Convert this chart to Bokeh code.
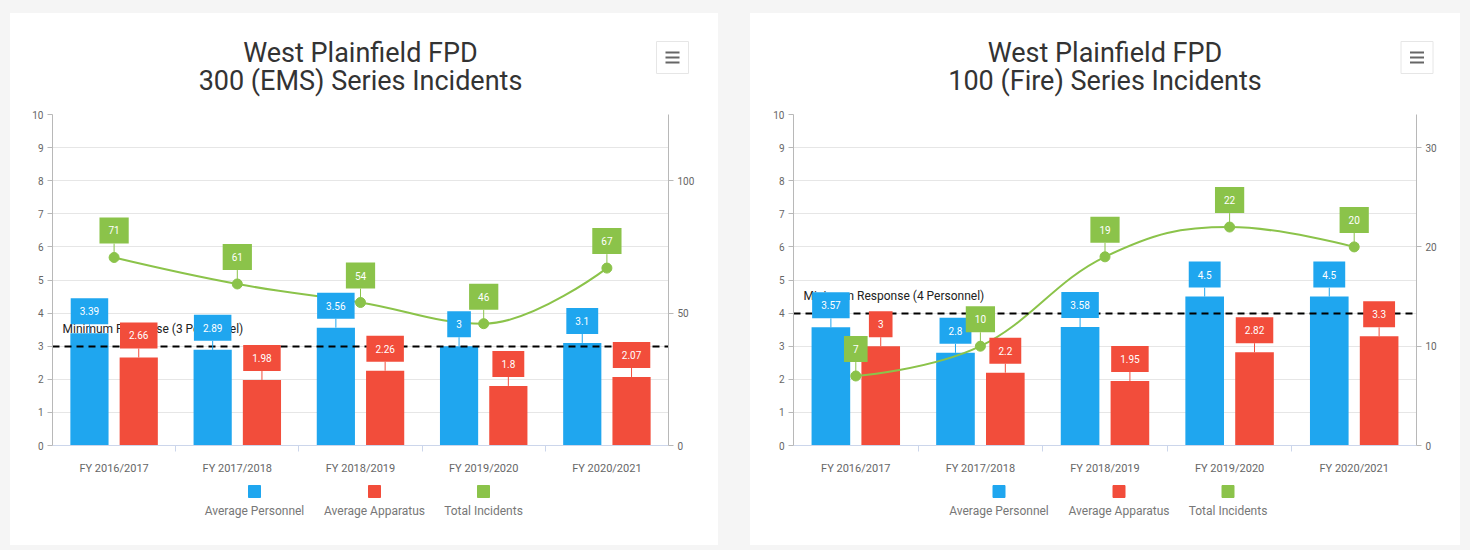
from bokeh.plotting import figure
from bokeh.models import Range1d, LinearAxis, FixedTicker, GlobalInlineStyleSheet, Spacer
from bokeh.layouts import row, column
from bokeh.embed import file_html
from bokeh.resources import INLINE
from bokeh.core.properties import value

# ---------------- data ----------------
categories = ["FY 2016/2017", "FY 2017/2018", "FY 2018/2019", "FY 2019/2020", "FY 2020/2021"]
series_names = ["Average Personnel", "Average Apparatus", "Total Incidents"]

ems_title = ["West Plainfield FPD", "300 (EMS) Series Incidents"]
ems_personnel = [3.39, 2.89, 3.56, 3, 3.1]
ems_apparatus = [2.66, 1.98, 2.26, 1.8, 2.07]
ems_incidents = [71, 61, 54, 46, 67]
ems_min_response = 3
ems_min_label = "Minimum Response (3 Personnel)"
ems_right_ticks = [0, 50, 100]
ems_right_max = 125

fire_title = ["West Plainfield FPD", "100 (Fire) Series Incidents"]
fire_personnel = [3.57, 2.8, 3.58, 4.5, 4.5]
fire_apparatus = [3, 2.2, 1.95, 2.82, 3.3]
fire_incidents = [7, 10, 19, 22, 20]
fire_min_response = 4
fire_min_label = "Minimum Response (4 Personnel)"
fire_right_ticks = [0, 10, 20, 30]
fire_right_max = 100 / 3

left_ticks = list(range(0, 11))
left_max = 10

# ---------------- style ----------------
BLUE = "#1fa6ef"
RED = "#f24d3b"
GREEN = "#8bc34a"
FONT = "Roboto"
HEAD_H, MAIN_H, LEG_H = 93, 371, 68
BORDER_TOP, BORDER_BOTTOM = 8, 30
PAGE_BG = "#f5f5f5"


def spline_segments(xs, ys, smoothing=1.5):
    n = len(xs)
    denom = smoothing + 1
    left = [(xs[i], ys[i]) for i in range(n)]
    right = [(xs[i], ys[i]) for i in range(n)]
    for i in range(1, n - 1):
        px, py = xs[i], ys[i]
        lx, ly = xs[i - 1], ys[i - 1]
        nx, ny = xs[i + 1], ys[i + 1]
        lcx = (smoothing * px + lx) / denom
        lcy = (smoothing * py + ly) / denom
        rcx = (smoothing * px + nx) / denom
        rcy = (smoothing * py + ny) / denom
        if rcx != lcx:
            corr = ((rcy - lcy) * (rcx - px)) / (rcx - lcx) + py - rcy
            lcy += corr
            rcy += corr
        if lcy > ly and lcy > py:
            lcy = max(ly, py); rcy = 2 * py - lcy
        elif lcy < ly and lcy < py:
            lcy = min(ly, py); rcy = 2 * py - lcy
        if rcy > ny and rcy > py:
            rcy = max(ny, py); lcy = 2 * py - rcy
        elif rcy < ny and rcy < py:
            rcy = min(ny, py); lcy = 2 * py - rcy
        left[i] = (lcx, lcy)
        right[i] = (rcx, rcy)
    seg = dict(x0=[], y0=[], x1=[], y1=[], cx0=[], cy0=[], cx1=[], cy1=[])
    for i in range(n - 1):
        seg["x0"].append(xs[i]); seg["y0"].append(ys[i])
        seg["x1"].append(xs[i + 1]); seg["y1"].append(ys[i + 1])
        seg["cx0"].append(right[i][0]); seg["cy0"].append(right[i][1])
        seg["cx1"].append(left[i + 1][0]); seg["cy1"].append(left[i + 1][1])
    return seg


def strip(width, height):
    f = figure(width=width, height=height, x_range=Range1d(0, width), y_range=Range1d(height, 0),
               output_backend="svg", toolbar_location=None, x_axis_type=None, y_axis_type=None,
               min_border=0, background_fill_color="white", border_fill_color="white")
    f.outline_line_color = None
    f.frame_align = False
    return f


def make_card(width, titles, personnel, apparatus, incidents, min_val, min_label,
              right_ticks, right_max, border_left, border_right):
    n = len(categories)
    fw = width - border_left - border_right
    fh = MAIN_H - BORDER_TOP - BORDER_BOTTOM
    ppy = fh / left_max
    ppr = fh / right_max
    fcx = border_left + fw / 2

    # ---- header: titles + menu button ----
    hd = strip(width, HEAD_H)
    for t, ty in zip(titles, (39, 67)):
        hd.text(x=[fcx], y=[ty], text=[t], anchor="center", text_font=value(FONT),
                text_font_size="27px", text_color="#333333")
    mx, my = fcx + 312, 44
    hd.rect(x=[mx], y=[my], width=32, height=32, fill_color="white",
            line_color="#e6e6e6", line_width=1)
    hd.segment(x0=[mx - 7] * 3, x1=[mx + 7] * 3, y0=[my - 5, my, my + 5], y1=[my - 5, my, my + 5],
               line_color="#666666", line_width=2)

    # ---- main chart ----
    p = figure(width=width, height=MAIN_H, x_range=Range1d(0, n), y_range=Range1d(0, left_max),
               output_backend="svg", toolbar_location=None,
               min_border_left=border_left, min_border_right=border_right,
               min_border_top=BORDER_TOP, min_border_bottom=BORDER_BOTTOM,
               background_fill_color="white", border_fill_color="white")
    p.extra_y_ranges = {"inc": Range1d(0, right_max)}
    p.outline_line_color = None

    centers = [i + 0.5 for i in range(n)]
    bx_p = [c - 0.2 for c in centers]
    bx_a = [c + 0.2 for c in centers]

    p.xgrid.visible = False
    p.ygrid.ticker = FixedTicker(ticks=left_ticks)
    p.ygrid.grid_line_color = "#e6e6e6"

    p.xaxis.ticker = FixedTicker(ticks=centers, minor_ticks=[1, 2, 3, 4])
    p.xaxis.major_label_overrides = {c: cat for c, cat in zip(centers, categories)}
    p.xaxis.major_tick_line_color = None
    p.xaxis.major_tick_out = 0
    p.xaxis.major_tick_in = 0
    p.xaxis.minor_tick_line_color = "#ccd6eb"
    p.xaxis.minor_tick_out = 6
    p.xaxis.minor_tick_in = 0
    p.xaxis.axis_line_color = "#ccd6eb"
    p.xaxis.major_label_standoff = 10
    p.xaxis.major_label_text_font = FONT
    p.xaxis.major_label_text_font_size = "11px"
    p.xaxis.major_label_text_color = "#666666"

    p.yaxis.ticker = FixedTicker(ticks=left_ticks)
    raxis = LinearAxis(y_range_name="inc", ticker=FixedTicker(ticks=right_ticks))
    p.add_layout(raxis, "right")
    for ax in (p.yaxis[0], raxis):
        ax.axis_line_color = "#b8b8b8"
        ax.major_tick_line_color = "#b8b8b8"
        ax.major_tick_out = 5
        ax.major_tick_in = 0
        ax.minor_tick_line_color = None
        ax.major_label_standoff = 4
        ax.major_label_text_font = FONT
        ax.major_label_text_font_size = "10px"
        ax.major_label_text_color = "#666666"

    # bars
    p.vbar(x=bx_p, top=personnel, width=0.31, color=BLUE, line_color=None)
    p.vbar(x=bx_a, top=apparatus, width=0.31, color=RED, line_color=None)

    # spline line + markers
    seg = spline_segments(centers, incidents)
    p.bezier(line_color=GREEN, line_width=2, y_range_name="inc", **seg)
    p.scatter(x=centers, y=incidents, size=10, color=GREEN, y_range_name="inc")

    # minimum response line
    p.hspan(y=[min_val], line_color="black", line_width=2, line_dash="7 5")
    p.text(x=[0], y=[min_val], text=[min_label], x_offset=10, y_offset=-10,
           anchor="bottom_left", text_font=value(FONT), text_font_size="12px",
           text_color="#222222")

    # data labels
    pad = dict(left=9, right=9, top=9, bottom=9)
    gap_bar = 9
    gap_line = 14
    for xs, vals, col in ((bx_p, personnel, BLUE), (bx_a, apparatus, RED)):
        p.segment(x0=xs, y0=vals, x1=xs, y1=[v + gap_bar / ppy for v in vals],
                  line_color=col, line_width=1)
        p.text(x=xs, y=vals, text=[f"{v:g}" for v in vals], anchor="bottom_center",
               y_offset=-gap_bar, text_font=value(FONT), text_font_size="10px",
               text_color="white", background_fill_color=col, padding=pad)
    p.segment(x0=centers, y0=incidents, x1=centers, y1=[v + gap_line / ppr for v in incidents],
              line_color=GREEN, line_width=1, y_range_name="inc")
    p.text(x=centers, y=incidents, text=[f"{v:g}" for v in incidents], anchor="bottom_center",
           y_offset=-gap_line, text_font=value(FONT), text_font_size="10px",
           text_color="white", background_fill_color=GREEN, padding=pad, y_range_name="inc")

    # ---- legend strip (icons above labels) ----
    lg = strip(width, LEG_H)
    legend_offsets = [-106, 14, 123]
    for name, col, off in zip(series_names, (BLUE, RED, GREEN), legend_offsets):
        lg.scatter(x=[fcx + off], y=[14], marker="square", size=12, color=col)
        lg.text(x=[fcx + off], y=[33], text=[name], anchor="center", text_font=value(FONT),
                text_font_size="12px", text_color="#777777")
    return column(hd, p, lg, spacing=0, styles={"background-color": "white"})


c1 = make_card(708, ems_title, ems_personnel, ems_apparatus, ems_incidents, ems_min_response,
               ems_min_label, ems_right_ticks, ems_right_max, 42, 50)
c2 = make_card(710, fire_title, fire_personnel, fire_apparatus, fire_incidents, fire_min_response,
               fire_min_label, fire_right_ticks, fire_right_max, 43, 44)

layout = column(
    Spacer(height=13),
    row(Spacer(width=10), c1, Spacer(width=32), c2, spacing=0),
    spacing=0,
    stylesheets=[GlobalInlineStyleSheet(css=f"html, body {{ background-color: {PAGE_BG}; }}")],
)

open("out.html", "w").write(file_html(layout, INLINE))
